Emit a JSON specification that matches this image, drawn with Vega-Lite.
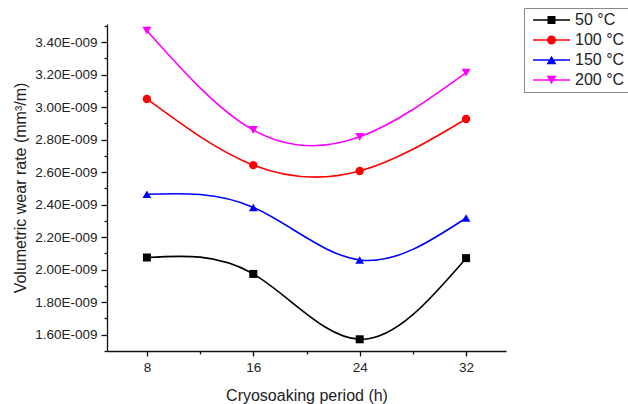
{
  "$schema": "https://vega.github.io/schema/vega-lite/v6.json",
  "width": 399,
  "height": 327,
  "autosize": {"type": "none"},
  "padding": {"left": 107, "top": 24, "right": 122, "bottom": 53},
  "background": "white",
  "config": {
    "view": {"stroke": null},
    "font": "Liberation Sans",
    "axis": {
      "grid": false,
      "domainColor": "#111",
      "domainWidth": 1.3,
      "tickColor": "#111",
      "tickWidth": 1.3,
      "labelFont": "Liberation Sans",
      "labelFontSize": 13.5,
      "labelColor": "#222",
      "titleFont": "Liberation Sans",
      "titleFontSize": 16,
      "titleFontWeight": "normal",
      "titleColor": "#222"
    }
  },
  "data": {
    "values": [
      {"period": 8, "rate": 2.075e-9, "series": "50 °C"},
      {"period": 16, "rate": 1.974e-9, "series": "50 °C"},
      {"period": 24, "rate": 1.572e-9, "series": "50 °C"},
      {"period": 32, "rate": 2.071e-9, "series": "50 °C"},
      {"period": 8, "rate": 3.05e-9, "series": "100 °C"},
      {"period": 16, "rate": 2.643e-9, "series": "100 °C"},
      {"period": 24, "rate": 2.607e-9, "series": "100 °C"},
      {"period": 32, "rate": 2.927e-9, "series": "100 °C"},
      {"period": 8, "rate": 2.464e-9, "series": "150 °C"},
      {"period": 16, "rate": 2.383e-9, "series": "150 °C"},
      {"period": 24, "rate": 2.06e-9, "series": "150 °C"},
      {"period": 32, "rate": 2.318e-9, "series": "150 °C"},
      {"period": 8, "rate": 3.47e-9, "series": "200 °C"},
      {"period": 16, "rate": 2.859e-9, "series": "200 °C"},
      {"period": 24, "rate": 2.817e-9, "series": "200 °C"},
      {"period": 32, "rate": 3.212e-9, "series": "200 °C"}
    ]
  },
  "encoding": {
    "x": {
      "field": "period",
      "type": "quantitative",
      "scale": {"domain": [5, 35], "nice": false, "zero": false},
      "axis": {
        "title": "Cryosoaking period (h)",
        "values": [8, 12, 16, 20, 24, 28, 32],
        "labelExpr": "datum.value % 8 == 0 ? datum.value : ''",
        "tickSize": {"condition": {"test": "datum.value % 8 == 0", "value": 5}, "value": 3},
        "labelPadding": 4,
        "titlePadding": 14
      }
    },
    "y": {
      "field": "rate",
      "type": "quantitative",
      "scale": {"domain": [1.5e-9, 3.511e-9], "nice": false, "zero": false},
      "axis": {
        "title": "Volumetric wear rate (mm³/m)",
        "values": [1.5e-9, 1.6e-9, 1.7e-9, 1.8e-9, 1.9e-9, 2.0e-9, 2.1e-9, 2.2e-9, 2.3e-9, 2.4e-9, 2.5e-9, 2.6e-9, 2.7e-9, 2.8e-9, 2.9e-9, 3.0e-9, 3.1e-9, 3.2e-9, 3.3e-9, 3.4e-9, 3.5e-9],
        "labelExpr": "round(datum.value * 1e10) % 2 == 0 ? format(datum.value * 1e9, '.2f') + 'E-009' : ''",
        "tickSize": {"condition": {"test": "round(datum.value * 1e10) % 2 == 0", "value": 6}, "value": 3},
        "labelPadding": 4,
        "titlePadding": 6
      }
    }
  },
  "layer": [
    {
      "mark": {"type": "line", "interpolate": "natural", "strokeWidth": 1.6},
      "encoding": {
        "color": {
          "field": "series",
          "type": "nominal",
          "scale": {"domain": ["50 °C", "100 °C", "150 °C", "200 °C"], "range": ["#000000", "#ff0000", "#0000ff", "#ff00ff"]},
          "legend": null
        }
      }
    },
    {
      "mark": {"type": "point", "filled": true, "opacity": 1},
      "encoding": {
        "color": {
          "field": "series",
          "type": "nominal",
          "scale": {"domain": ["50 °C", "100 °C", "150 °C", "200 °C"], "range": ["#000000", "#ff0000", "#0000ff", "#ff00ff"]},
          "legend": null
        },
        "shape": {
          "field": "series",
          "type": "nominal",
          "scale": {"domain": ["50 °C", "100 °C", "150 °C", "200 °C"], "range": ["square", "circle", "triangle-up", "triangle-down"]},
          "legend": null
        },
        "size": {
          "field": "series",
          "type": "nominal",
          "scale": {"domain": ["50 °C", "100 °C", "150 °C", "200 °C"], "range": [64, 81, 100, 100]},
          "legend": null
        }
      }
    },
    {
      "mark": {"type": "point", "filled": true, "opacity": 0},
      "encoding": {
        "color": {
          "field": "series",
          "type": "nominal",
          "scale": {"domain": ["50 °C", "100 °C", "150 °C", "200 °C"], "range": ["#000000", "#ff0000", "#0000ff", "#ff00ff"]}
        },
        "shape": {
          "field": "series",
          "type": "nominal",
          "scale": {
            "domain": ["50 °C", "100 °C", "150 °C", "200 °C"],
            "range": [
              "M-1,-0.043H1V0.043H-1Z M-0.216,-0.216H0.216V0.216H-0.216Z",
              "M-1,-0.043H1V0.043H-1Z M-0.243,0A0.243,0.243,0,1,1,0.243,0A0.243,0.243,0,1,1,-0.243,0Z",
              "M-1,-0.043H1V0.043H-1Z M0,-0.234L0.27,0.234L-0.27,0.234Z",
              "M-1,-0.043H1V0.043H-1Z M0,0.234L-0.27,-0.234L0.27,-0.234Z"
            ]
          },
          "legend": {
            "title": null,
            "orient": "none",
            "legendX": 417,
            "legendY": -16,
            "padding": 4,
            "symbolOffset": 5,
            "labelOffset": 5,
            "rowPadding": 4,
            "clipHeight": 16,
            "symbolSize": 1369,
            "symbolOpacity": 1,
            "symbolStrokeWidth": 0,
            "labelFont": "Liberation Sans",
            "labelFontSize": 16,
            "labelColor": "#222",
            "strokeColor": "#888",
            "fillColor": "white"
          }
        }
      }
    }
  ],
  "resolve": {"scale": {"shape": "independent", "color": "independent"}}
}
